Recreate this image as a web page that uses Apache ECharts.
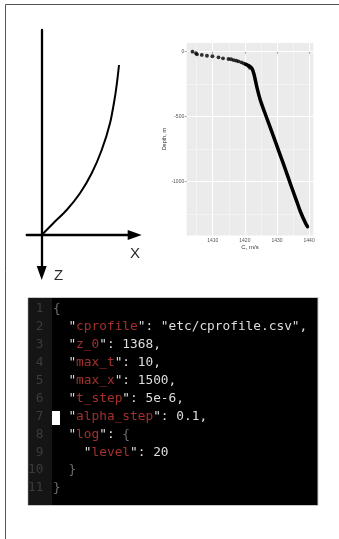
<!DOCTYPE html>
<html>
<head>
<meta charset="utf-8">
<script src="https://cdn.jsdelivr.net/npm/echarts@6/dist/echarts.min.js"></script>
<style>
  html, body { margin: 0; padding: 0; background: #fff; }
  #main { width: 339px; height: 539px; }
</style>
</head>
<body>
<div id="main"></div>
<script>
// Ray sketch in the X–Z plane (horizontal offset, depth shown as negative up)
const rayX = [0, 11.6, 25, 38.3, 50, 60, 68.3, 73.3, 75.6, 77.3];
const rayZ = [0, -11.8, -25, -41.7, -61.7, -85, -111.7, -138.3, -155, -170];

// Sound-speed profile: shallow samples (drawn as dots)
const shallowC = [1403.7, 1404.8, 1405.1, 1406.6, 1408.2, 1409.9, 1411.8, 1413.2, 1414.9,
                  1415.7, 1416.5, 1417.3, 1418.0, 1418.9, 1419.6, 1420.3, 1421.1, 1421.6];
const shallowDepth = [0, -12, -20, -25, -31, -35, -43, -51, -56,
                      -58, -64, -69, -74, -82, -89, -97, -110, -125];

// Sound-speed profile: deep part (dense samples, drawn as a thick trace)
const deepC = [1420.3, 1421.1, 1422.2, 1422.9, 1423.7, 1424.8, 1426.1, 1427.8, 1429.5,
               1431.0, 1432.5, 1434.3, 1436.0, 1437.3, 1438.9, 1439.5];
const deepDepth = [-97, -106, -128, -179, -269, -372, -462, -577, -692,
                   -795, -897, -1025, -1141, -1231, -1320, -1346];

// Tick values
const speedTicks = [1410, 1420, 1430, 1440];
const speedMinor = [1405, 1415, 1425, 1435];
const depthTicks = [-1000, -500, 0];
const depthMinor = [-1250, -750, -250];

// Config file shown in the editor pane
const configLines = [
  '{',
  '  "cprofile": "etc/cprofile.csv",',
  '  "z_0": 1368,',
  '  "max_t": 10,',
  '  "max_x": 1500,',
  '  "t_step": 5e-6,',
  '  "alpha_step": 0.1,',
  '  "log": {',
  '    "level": 20',
  '  }',
  '}'
];

const zip = (a, b) => a.map((v, i) => [v, b[i]]);

const MONO = '12.8px "DejaVu Sans Mono", monospace';
const KEY_COLOR = '#a3302c';
const TEXT_COLOR = '#dedede';
const BRACE_COLOR = '#6e6e6e';

function richLine(s) {
  const m = s.match(/^(\s*)"([^"]+)":(.*)$/);
  if (!m) return s;
  let rest = m[3], tail = '';
  if (rest.trim().endsWith('{')) { rest = rest.replace(/\{\s*$/, ''); tail = '{'; }
  return m[1] + '{p|"}{k|' + m[2] + '}{p|":' + rest + '}' + tail;
}

const codeTop = 309, lineStep = 17.9;
const codeElements = [
  { type: 'rect', shape: { x: 28, y: 297.5, width: 290, height: 208 },
    style: { fill: '#000', stroke: '#c8c8c8', lineWidth: 1 } },
  { type: 'rect', shape: { x: 28.5, y: 298, width: 23.5, height: 207 },
    style: { fill: '#151515' } },
  { type: 'rect', shape: { x: 52, y: 411, width: 8, height: 14 },
    style: { fill: '#fff' } }
];
configLines.forEach((line, i) => {
  const y = codeTop + i * lineStep;
  codeElements.push({
    type: 'text', x: 43.5, y: y,
    style: { text: String(i + 1), fill: '#3c3c3c', font: MONO, align: 'right', verticalAlign: 'middle' }
  });
  codeElements.push({
    type: 'text', x: 53, y: y,
    style: {
      text: richLine(line), fill: BRACE_COLOR, font: MONO, align: 'left', verticalAlign: 'middle',
      rich: {
        k: { fill: KEY_COLOR, font: MONO },
        p: { fill: TEXT_COLOR, font: MONO }
      }
    }
  });
});

const chart = echarts.init(document.getElementById('main'), null, { renderer: 'canvas' });

const tickFmt = v => String(v);
const smallLabel = { fontSize: 5, color: '#555', fontFamily: 'Liberation Sans, Arial, sans-serif' };

chart.setOption({
  backgroundColor: '#fff',
  animation: false,
  grid: [
    { left: 26.7, top: 30, width: 108, height: 243, outerBoundsMode: 'none' },
    { left: 186.7, top: 43, width: 126.6, height: 192.4, show: true,
      backgroundColor: '#ebebeb', borderWidth: 0, outerBoundsMode: 'none' }
  ],
  xAxis: [
    { gridIndex: 0, type: 'value', min: -15, max: 93,
      axisLine: { onZero: true, symbol: ['none', 'triangle'], symbolSize: [10, 14],
                  lineStyle: { color: '#000', width: 2.3 } },
      axisTick: { show: false }, axisLabel: { show: false }, splitLine: { show: false } },
    { gridIndex: 1, type: 'value', min: 1401.9, max: 1441.3, position: 'bottom',
      axisLine: { show: false },
      axisTick: { show: true, length: 2, customValues: speedTicks, lineStyle: { color: '#444', width: 0.5 } },
      axisLabel: Object.assign({ customValues: speedTicks, margin: 2.5, formatter: tickFmt }, smallLabel),
      splitLine: { show: true, lineStyle: { color: '#fff', width: 1 } },
      name: 'C, m/s', nameLocation: 'middle', nameGap: 9,
      nameTextStyle: { fontSize: 6, color: '#333', fontFamily: 'Liberation Sans, Arial, sans-serif' } },
    { gridIndex: 1, type: 'value', min: 1401.9, max: 1441.3, position: 'top',
      axisLine: { show: false },
      axisTick: { show: false, customValues: speedMinor },
      axisLabel: { show: false },
      splitLine: { show: true, lineStyle: { color: '#fafafa', width: 0.5 } } }
  ],
  yAxis: [
    { gridIndex: 0, type: 'value', inverse: true, min: -205, max: 38,
      axisLine: { onZero: true, symbol: ['triangle', 'none'], symbolSize: [10, 14],
                  lineStyle: { color: '#000', width: 2.3 } },
      axisTick: { show: false }, axisLabel: { show: false }, splitLine: { show: false } },
    { gridIndex: 1, type: 'value', min: -1413, max: 67, position: 'left',
      axisLine: { show: false },
      axisTick: { show: true, length: 2, customValues: depthTicks, lineStyle: { color: '#444', width: 0.5 } },
      axisLabel: Object.assign({ customValues: depthTicks, margin: 2.5, formatter: tickFmt }, smallLabel),
      splitLine: { show: true, lineStyle: { color: '#fff', width: 1 } },
      name: 'Depth, m', nameLocation: 'middle', nameGap: 18, nameRotate: 90,
      nameTextStyle: { fontSize: 5.5, color: '#333', fontFamily: 'Liberation Sans, Arial, sans-serif' } },
    { gridIndex: 1, type: 'value', min: -1413, max: 67, position: 'right',
      axisLine: { show: false },
      axisTick: { show: false, customValues: depthMinor },
      axisLabel: { show: false },
      splitLine: { show: true, lineStyle: { color: '#fafafa', width: 0.5 } } }
  ],
  series: [
    { type: 'line', xAxisIndex: 0, yAxisIndex: 0, data: zip(rayX, rayZ),
      smooth: 0.3, showSymbol: false, silent: true,
      lineStyle: { color: '#000', width: 2 } },
    { type: 'line', xAxisIndex: 1, yAxisIndex: 1, data: zip(deepC, deepDepth),
      smooth: 0.3, showSymbol: false, silent: true,
      lineStyle: { color: '#000', width: 3.5, cap: 'round', join: 'round' } },
    { type: 'scatter', xAxisIndex: 1, yAxisIndex: 1, data: zip(shallowC, shallowDepth),
      symbolSize: 3.8, silent: true, itemStyle: { color: '#000' } }
  ],
  graphic: {
    elements: [
      { type: 'polyline', shape: { points: [[5.5, 539], [5.5, 4.5], [339, 4.5]] },
        style: { stroke: '#555', lineWidth: 1, fill: null } },
      { type: 'text', x: 135, y: 254,
        style: { text: 'X', fill: '#2a2a2a', font: '15px "Liberation Sans", Arial, sans-serif',
                 align: 'center', verticalAlign: 'middle' } },
      { type: 'text', x: 58.5, y: 276,
        style: { text: 'Z', fill: '#2a2a2a', font: '15px "Liberation Sans", Arial, sans-serif',
                 align: 'center', verticalAlign: 'middle' } }
    ].concat(codeElements)
  }
});
</script>
</body>
</html>
